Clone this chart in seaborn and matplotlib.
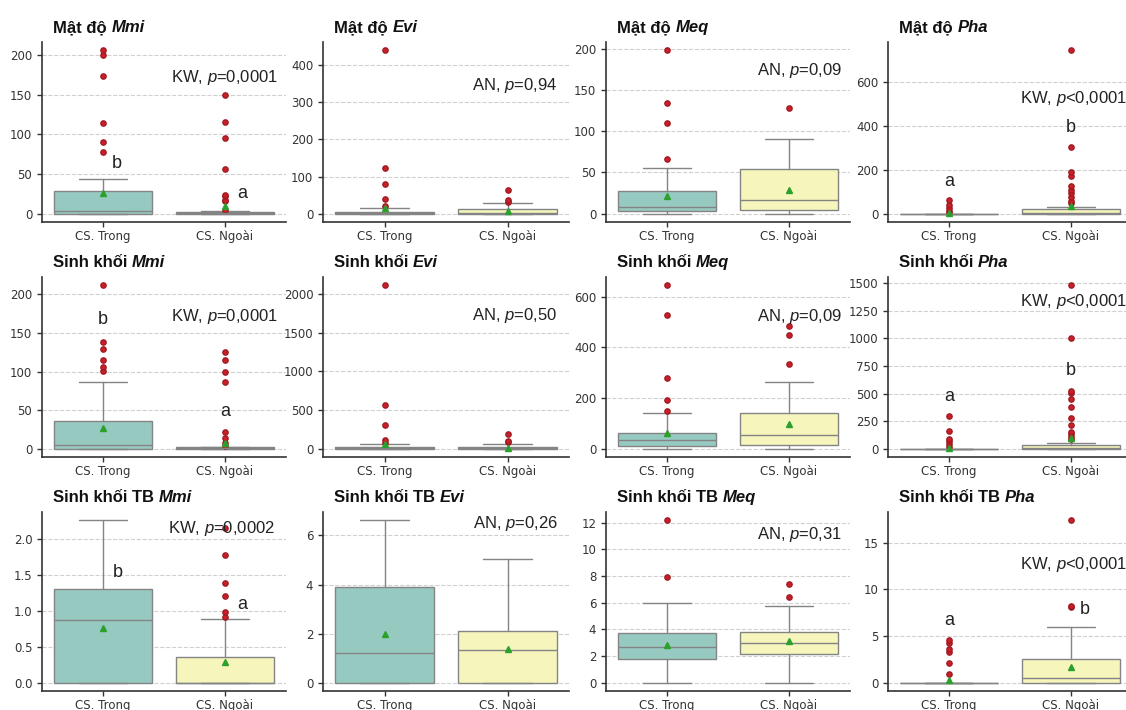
import colorsys
import matplotlib
matplotlib.use("Agg")
import matplotlib.pyplot as plt
import seaborn as sns

# ---------------- data ----------------
groups = ["CS. Trong", "CS. Ngoài"]
row_titles = ["Mật độ", "Sinh khối", "Sinh khối TB"]
species = ["Mmi", "Evi", "Meq", "Pha"]

# five-number summaries [whisker low, Q1, median, Q3, whisker high], panels row-major
trong_box = [
    [0, 0, 4, 29, 44], [0, 0, 2, 5, 15], [0, 3, 8, 28, 56], [0, 0, 0, 0, 0],
    [0, 0, 5, 36, 86], [0, 0, 5, 25, 60], [0, 10, 33, 63, 143], [0, 0, 0, 0, 0],
    [0, 0, 0.87, 1.31, 2.27], [0, 0, 1.23, 3.88, 6.62], [0, 1.8, 2.67, 3.71, 6.0], [0, 0, 0, 0, 0],
]
ngoai_box = [
    [0, 0, 0.5, 2, 3], [0, 0, 3, 13, 29], [0, 5, 17, 54, 90], [0, 0, 4, 23, 32],
    [0, 0, 0.5, 2, 3], [0, 0, 5, 25, 65], [0, 14, 54, 143, 263], [0, 0, 10, 39, 51],
    [0, 0, 0, 0.36, 0.89], [0, 0, 1.32, 2.13, 5.03], [0, 2.15, 3.0, 3.79, 5.77], [0, 0, 0.57, 2.55, 5.99],
]
trong_mean = [26, 16, 22, 3, 27, 56, 62, 8, 0.77, 1.97, 2.87, 0.28]
ngoai_mean = [9.6, 7, 29, 35, 8, 13, 97, 99, 0.29, 1.37, 3.1, 1.70]
trong_fliers = [
    [78, 90, 114, 174, 200, 206], [20, 40, 81, 124, 440], [66, 110, 134, 198], [5, 15, 27, 42, 65],
    [101, 106, 115, 129, 138, 212], [77, 120, 309, 562, 2115], [151, 191, 279, 528, 646],
    [15, 45, 75, 93, 160, 295],
    [], [], [7.95, 12.18], [0.92, 2.13, 3.3, 3.65, 4.26, 4.54],
]
ngoai_fliers = [
    [5, 16, 18, 22, 24, 56, 96, 116, 150], [32, 36, 63], [128],
    [47, 60, 77, 95, 110, 125, 173, 188, 302, 743],
    [4, 8, 14, 22, 87, 100, 115, 126], [85, 105, 190], [334, 450, 486],
    [93, 111, 130, 154, 214, 280, 376, 449, 506, 527, 1003, 1480],
    [0.92, 0.99, 1.21, 1.39, 1.79, 2.16], [], [6.39, 7.38], [8.08, 8.26, 17.41],
]
test_names = ["KW", "AN", "AN", "KW", "KW", "AN", "AN", "KW", "KW", "AN", "AN", "KW"]
p_texts = ["=0,0001", "=0,94", "=0,09", "<0,0001", "=0,0001", "=0,50", "=0,09", "<0,0001",
           "=0,0002", "=0,26", "=0,31", "<0,0001"]
letters_trong = ["b", "", "", "a", "b", "", "", "a", "b", "", "", "a"]
letters_ngoai = ["a", "", "", "b", "a", "", "", "b", "a", "", "", "b"]
y_ticks = [
    [0, 50, 100, 150, 200], [0, 100, 200, 300, 400], [0, 50, 100, 150, 200], [0, 200, 400, 600],
    [0, 50, 100, 150, 200], [0, 500, 1000, 1500, 2000], [0, 200, 400, 600],
    [0, 250, 500, 750, 1000, 1250, 1500],
    [0.0, 0.5, 1.0, 1.5, 2.0], [0, 2, 4, 6], [0, 2, 4, 6, 8, 10, 12], [0, 5, 10, 15],
]

# ---------------- layout (positions of annotations, data coords) ----------------
test_pos = [(1.43, 172), (1.40, 346), (1.43, 173), (1.455, 522),
            (1.43, 172), (1.40, 1717), (1.43, 524), (1.455, 1334),
            (1.41, 2.16), (1.41, 6.48), (1.43, 11.1), (1.455, 12.7)]
letter_trong_pos = {0: (0.11, 63), 3: (0.0, 148), 4: (0.0, 167), 7: (0.0, 476),
                    8: (0.12, 1.54), 11: (0.0, 6.67)}
letter_ngoai_pos = {0: (1.14, 26), 3: (1.0, 392), 4: (1.0, 48), 7: (1.0, 711),
                    8: (1.14, 1.10), 11: (1.11, 7.84)}

W, H = 1126, 710
col_px = [(42, 286), (323, 569), (606, 850), (888, 1132)]
row_px = [(42, 222), (277, 457), (512, 691)]

# ---------------- style ----------------
sns.set_theme(style="ticks")
plt.rcParams["font.family"] = ["DejaVu Sans"]
plt.rcParams["mathtext.fontset"] = "custom"
plt.rcParams["mathtext.rm"] = "Liberation Sans"
plt.rcParams["mathtext.it"] = "Liberation Sans:italic"
plt.rcParams["axes.edgecolor"] = "#333333"
plt.rcParams["axes.linewidth"] = 1.2

palette = sns.color_palette("Set3", 2, desat=0.75)
light = min(colorsys.rgb_to_hls(*c)[1] for c in palette)
line_c = (light * 0.75,) * 3

fig = plt.figure(figsize=(W / 100, H / 100), dpi=100)

for i in range(12):
    r, c = divmod(i, 4)
    x0, x1 = col_px[c]
    y0, y1 = row_px[r]
    ax = fig.add_axes([x0 / W, 1 - y1 / H, (x1 - x0) / W, (y1 - y0) / H])

    stats = []
    for box, mean, fl, lab in ((trong_box[i], trong_mean[i], trong_fliers[i], groups[0]),
                               (ngoai_box[i], ngoai_mean[i], ngoai_fliers[i], groups[1])):
        stats.append(dict(whislo=box[0], q1=box[1], med=box[2], q3=box[3], whishi=box[4],
                          mean=mean, fliers=fl, label=lab))

    art = ax.bxp(stats, positions=[0, 1], widths=0.8, patch_artist=True, showmeans=True,
                 manage_ticks=False,
                 boxprops=dict(edgecolor=line_c, linewidth=1.0),
                 whiskerprops=dict(color=line_c, linewidth=1.0),
                 capprops=dict(color=line_c, linewidth=1.0),
                 medianprops=dict(color=line_c, linewidth=1.0),
                 flierprops=dict(marker="o", markerfacecolor="#c8202a", markeredgecolor="#a01a22",
                                 markersize=3.8, linestyle="none"),
                 meanprops=dict(marker="^", markerfacecolor="#2ca02c", markeredgecolor="#2ca02c",
                                markersize=5))
    for patch, col in zip(art["boxes"], palette):
        patch.set_facecolor(col)

    ax.set_xlim(-0.5, 1.5)
    ax.set_xticks([0, 1])
    ax.set_xticklabels(groups)
    ax.set_yticks(y_ticks[i])
    ax.tick_params(axis="both", labelsize=8.5, colors="#333333", length=3.5, width=1.0)
    ax.tick_params(axis="x", pad=2)
    ax.yaxis.grid(True, linestyle="--", color="#d0d0d0", linewidth=0.8)
    ax.set_axisbelow(True)
    sns.despine(ax=ax)

    # title: plain bold part + bold italic species
    t1 = ax.annotate(row_titles[r] + " ", xy=(0, 1), xycoords="axes fraction",
                     xytext=(11, 10), textcoords="offset pixels", ha="left", va="baseline",
                     fontsize=12, fontweight="bold", family="Liberation Sans", color="#111111")
    ax.annotate(species[c], xy=(1, 0), xycoords=t1, ha="left", va="bottom",
                fontsize=12, fontweight="bold", fontstyle="italic", family="Liberation Sans",
                color="#111111")

    tx, ty = test_pos[i]
    ax.text(tx, ty, test_names[i] + r", $\mathit{p}$" + p_texts[i], ha="right", va="center",
            fontsize=12, family="Liberation Sans", color="#222222", clip_on=False)

    if letters_trong[i]:
        lx, ly = letter_trong_pos[i]
        ax.text(lx, ly, letters_trong[i], ha="center", va="center", fontsize=13,
                family="Liberation Sans", color="#222222")
    if letters_ngoai[i]:
        lx, ly = letter_ngoai_pos[i]
        ax.text(lx, ly, letters_ngoai[i], ha="center", va="center", fontsize=13,
                family="Liberation Sans", color="#222222")

fig.savefig("out.png", dpi=100)
